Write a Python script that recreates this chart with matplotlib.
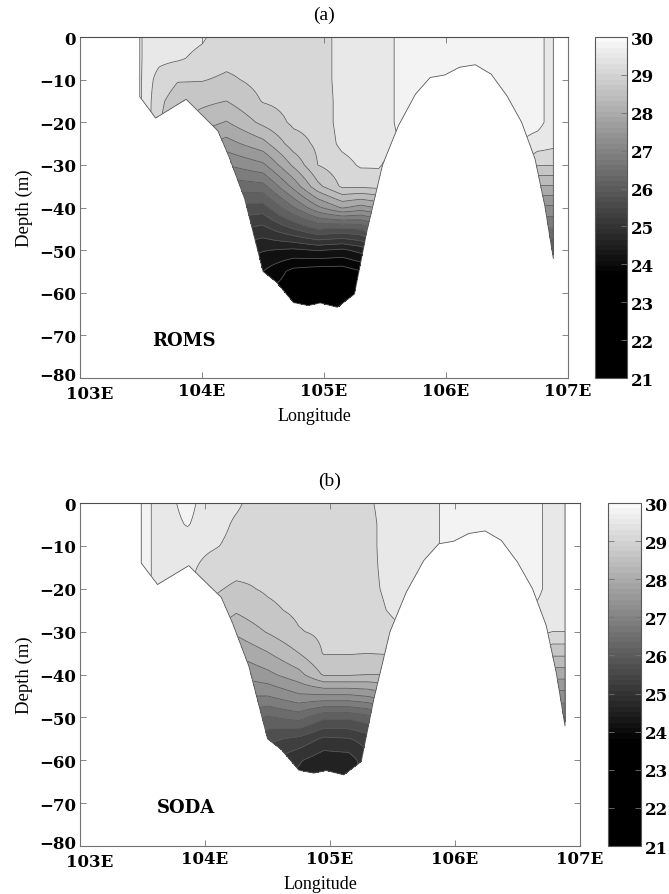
import numpy as np
import matplotlib
matplotlib.use("Agg")
import matplotlib.pyplot as plt
import matplotlib.transforms as mtransforms
from matplotlib.colors import LinearSegmentedColormap, Normalize
from matplotlib.cm import ScalarMappable

plt.rcParams["font.family"] = ["Liberation Serif", "DejaVu Serif"]
plt.rcParams["axes.unicode_minus"] = True

# sea floor along the section (same for both panels)
bottom_lon = [103.49, 103.62, 103.87, 104.13, 104.22, 104.35, 104.5, 104.61,
              104.75, 104.87, 104.97, 105.11, 105.25, 105.35, 105.48, 105.61,
              105.75, 105.87, 105.99, 106.11, 106.24, 106.37, 106.5, 106.62,
              106.73, 106.81, 106.88]
bottom_depth = [-14, -19, -14.6, -22, -28, -38, -55, -57.5, -62.3, -63, -62.4,
                -63.4, -60.3, -45.8, -30, -20.8, -13.4, -9.5, -8.9, -7.1, -6.5,
                -8.7, -13.8, -20, -28.6, -39.6, -52]
west_edge = 103.49
east_edge = 106.88

depth_levels = [0, -5, -10, -15, -20, -25, -30, -35, -40, -45, -50, -55, -60, -65]

# ROMS temperature (degC), one row per station, values at depth_levels
roms_lon = [103.49, 103.55, 103.65, 103.8, 104.0, 104.2, 104.5, 104.75, 104.95,
            105.15, 105.3, 105.45, 105.5, 105.65, 106.0, 106.4, 106.62, 106.75,
            106.88]
roms_temp = [
    [29.7, 29.7, 29.7, 29.7, 29.7, 29.7, 29.7, 29.7, 29.7, 29.7, 29.7, 29.7, 29.7, 29.7],
    [29.45, 29.45, 29.4, 29.4, 29.4, 29.4, 29.4, 29.4, 29.4, 29.4, 29.4, 29.4, 29.4, 29.4],
    [29.4, 29.35, 29.1, 28.95, 28.9, 28.9, 28.9, 28.9, 28.9, 28.9, 28.9, 28.9, 28.9, 28.9],
    [29.4, 29.3, 28.9, 28.7, 28.6, 28.5, 28.4, 28.4, 28.4, 28.4, 28.4, 28.4, 28.4, 28.4],
    [29.3, 29.15, 28.9, 28.6, 28.3, 27.8, 27.3, 26.8, 26.3, 25.8, 25.3, 24.8, 24.4, 24.1],
    [29.05, 29.0, 28.8, 28.5, 28.1, 27.6, 27.0, 26.4, 25.8, 25.2, 24.7, 24.3, 24.0, 23.8],
    [29.05, 29.05, 29.0, 28.9, 28.6, 28.0, 27.3, 26.5, 25.7, 25.0, 24.4, 24.0, 23.6, 23.4],
    [29.1, 29.08, 29.05, 29.0, 28.95, 28.7, 28.2, 27.5, 26.6, 25.5, 24.3, 23.5, 23.4, 23.3],
    [29.05, 29.05, 29.05, 29.0, 29.0, 28.95, 28.88, 28.4, 27.3, 25.9, 24.4, 23.4, 23.3, 23.3],
    [29.4, 29.4, 29.4, 29.4, 29.4, 29.35, 29.1, 28.95, 27.8, 25.8, 24.3, 23.4, 23.3, 23.3],
    [29.45, 29.45, 29.45, 29.45, 29.45, 29.45, 29.3, 28.95, 27.6, 25.9, 24.5, 23.6, 23.4, 23.4],
    [29.45, 29.45, 29.45, 29.45, 29.45, 29.4, 29.3, 29.0, 27.8, 26.3, 25.0, 24.0, 23.8, 23.8],
    [29.45, 29.45, 29.45, 29.45, 29.45, 29.4, 29.2, 28.8, 28.0, 27.0, 26.0, 25.0, 24.5, 24.5],
    [29.8, 29.8, 29.8, 29.8, 29.8, 29.7, 29.5, 29.2, 28.8, 28.4, 28.0, 27.6, 27.2, 27.0],
    [29.8, 29.8, 29.8, 29.8, 29.8, 29.8, 29.8, 29.8, 29.8, 29.8, 29.8, 29.8, 29.8, 29.8],
    [29.8, 29.8, 29.8, 29.8, 29.8, 29.8, 29.8, 29.8, 29.8, 29.8, 29.8, 29.8, 29.8, 29.8],
    [29.8, 29.8, 29.8, 29.8, 29.8, 29.6, 29.3, 28.9, 28.4, 27.8, 27.3, 26.9, 26.6, 26.5],
    [29.75, 29.75, 29.75, 29.75, 29.75, 29.45, 28.9, 28.1, 27.3, 26.6, 25.9, 25.5, 25.3, 25.2],
    [29.45, 29.45, 29.45, 29.45, 29.45, 29.35, 28.9, 28.1, 27.3, 26.6, 25.9, 25.5, 25.3, 25.2],
]

# SODA temperature (degC), same layout
soda_lon = [103.49, 103.65, 103.86, 104.05, 104.25, 104.5, 104.75, 104.95, 105.15,
            105.3, 105.45, 105.55, 105.75, 106.0, 106.4, 106.62, 106.78, 106.88]
soda_temp = [
    [29.8, 29.8, 29.8, 29.8, 29.8, 29.8, 29.8, 29.8, 29.8, 29.8, 29.8, 29.8, 29.8, 29.8],
    [29.45, 29.45, 29.45, 29.45, 29.45, 29.45, 29.45, 29.45, 29.45, 29.45, 29.45, 29.45, 29.45, 29.45],
    [29.75, 29.65, 29.4, 29.35, 29.3, 29.2, 29.1, 29.0, 29.0, 29.0, 29.0, 29.0, 29.0, 29.0],
    [29.4, 29.4, 29.3, 29.1, 28.95, 28.8, 28.6, 28.4, 28.2, 28.0, 27.8, 27.6, 27.4, 27.2],
    [29.3, 29.2, 29.15, 29.0, 28.8, 28.55, 28.2, 27.8, 27.4, 27.0, 26.6, 26.3, 26.0, 25.8],
    [29.05, 29.05, 29.0, 28.95, 28.92, 28.8, 28.53, 28.1, 27.65, 27.0, 26.2, 25.6, 25.2, 25.0],
    [29.05, 29.05, 29.05, 29.0, 29.0, 28.95, 28.85, 28.5, 28.0, 27.3, 26.4, 25.4, 24.8, 24.6],
    [29.05, 29.05, 29.05, 29.05, 29.0, 29.0, 28.95, 28.9, 28.55, 27.3, 25.95, 25.05, 24.5, 24.3],
    [29.1, 29.1, 29.1, 29.1, 29.1, 29.05, 29.0, 28.9, 28.55, 27.3, 25.95, 25.1, 24.55, 24.35],
    [29.2, 29.15, 29.15, 29.15, 29.15, 29.1, 29.0, 28.88, 28.5, 27.4, 26.1, 25.3, 25.0, 25.0],
    [29.35, 29.35, 29.35, 29.33, 29.3, 29.25, 29.1, 28.9, 28.5, 27.6, 26.5, 25.8, 25.5, 25.5],
    [29.4, 29.4, 29.4, 29.4, 29.4, 29.35, 29.2, 28.9, 28.5, 28.0, 27.5, 27.0, 26.8, 26.8],
    [29.45, 29.45, 29.45, 29.45, 29.45, 29.45, 29.45, 29.45, 29.45, 29.45, 29.45, 29.45, 29.45, 29.45],
    [29.8, 29.8, 29.8, 29.8, 29.8, 29.8, 29.8, 29.8, 29.8, 29.8, 29.8, 29.8, 29.8, 29.8],
    [29.8, 29.8, 29.8, 29.8, 29.8, 29.8, 29.8, 29.8, 29.8, 29.8, 29.8, 29.8, 29.8, 29.8],
    [29.8, 29.8, 29.8, 29.8, 29.8, 29.6, 29.4, 28.9, 28.3, 27.7, 27.1, 26.8, 26.6, 26.5],
    [29.45, 29.45, 29.45, 29.45, 29.45, 29.4, 29.25, 28.6, 27.9, 27.2, 26.6, 26.3, 26.1, 26.0],
    [29.4, 29.4, 29.4, 29.4, 29.4, 29.4, 29.25, 28.6, 27.9, 27.2, 26.6, 26.3, 26.1, 26.0],
]

temp_levels = np.linspace(21, 30, 25)
cbar_ticks = list(range(21, 31))
lon_ticks = [103, 104, 105, 106, 107]
lon_labels = ["103E", "104E", "105E", "106E", "107E"]
depth_ticks = [0, -10, -20, -30, -40, -50, -60, -70, -80]

# gray scale: black below ~23.7 degC, then ramps to near white at 30
t_black = (23.7 - 21) / 9
cmap = LinearSegmentedColormap.from_list(
    "sst_gray", [(0, "0.0"), (t_black, "0.0"), (1, "0.975")], N=64)
norm = Normalize(21, 30)

tick_font = {"family": ["DejaVu Serif"], "weight": "bold", "size": 12}


def section_field(station_lon, station_temp, lon_grid, z_grid):
    """Interpolate station profiles onto a lon/depth grid, masked below the floor."""
    zp = -np.asarray(depth_levels, dtype=float)
    prof = np.array([np.interp(-z_grid, zp, t) for t in station_temp])
    field = np.array([np.interp(lon_grid, station_lon, prof[:, k])
                      for k in range(len(z_grid))])
    floor = np.interp(lon_grid, bottom_lon, bottom_depth)
    return np.ma.masked_where(z_grid[:, None] < floor[None, :], field)


def draw_section(fig, ax_rect, cax_rect, station_lon, station_temp, tag, model):
    ax = fig.add_axes(ax_rect)
    lon_grid = np.linspace(west_edge, east_edge, 600)
    z_grid = np.linspace(0, -65, 500)
    field = section_field(station_lon, station_temp, lon_grid, z_grid)

    ax.contourf(lon_grid, z_grid, field, levels=temp_levels, cmap=cmap, norm=norm)
    ax.contour(lon_grid, z_grid, field, levels=temp_levels, colors="0.35",
               linewidths=0.55)
    ax.plot([west_edge] + bottom_lon + [east_edge], [0] + bottom_depth + [0],
            color="0.35", lw=0.6)

    ax.set_xlim(103, 107)
    ax.set_ylim(-80, 0)
    ax.set_xticks(lon_ticks)
    ax.set_xticklabels(lon_labels, fontdict=tick_font)
    ax.set_yticks(depth_ticks)
    ax.set_yticklabels([f"\u2212{-d}" if d else "0" for d in depth_ticks],
                       fontdict=tick_font)
    ax.tick_params(direction="in", top=True, right=True, length=4, width=0.6,
                   color="0.45")
    ax.tick_params(axis="x", pad=3)
    ax.tick_params(axis="y", pad=3)
    # nudge the corner labels apart so they don't collide
    ax.get_xticklabels()[0].set_transform(
        ax.get_xticklabels()[0].get_transform()
        + mtransforms.ScaledTranslation(7 / 72, -2 / 72, fig.dpi_scale_trans))
    ax.get_yticklabels()[-1].set_transform(
        ax.get_yticklabels()[-1].get_transform()
        + mtransforms.ScaledTranslation(0, 3 / 72, fig.dpi_scale_trans))
    for s in ax.spines.values():
        s.set_color("0.45")
        s.set_linewidth(0.8)
    ax.spines["top"].set_color("0.3")

    ax.set_xlabel("Longitude", fontsize=13, labelpad=2)
    ax.xaxis.set_label_coords(0.48, -0.085)
    ax.set_ylabel("Depth (m)", fontsize=13.5, labelpad=4)
    ax.set_title(tag, fontsize=14, pad=13)
    ax.text(103.85, -71, model, fontsize=13, fontweight="bold",
            family=["DejaVu Serif"], ha="center", va="center")

    cax = fig.add_axes(cax_rect)
    cb = fig.colorbar(ScalarMappable(norm=norm, cmap=cmap), cax=cax,
                      ticks=cbar_ticks)
    cb.ax.set_yticklabels([str(t) for t in cbar_ticks], fontdict=tick_font)
    cb.ax.tick_params(direction="in", left=True, right=True, length=4,
                      width=0.6, color="0.45", pad=3)
    cb.outline.set_color("0.35")
    cb.outline.set_linewidth(0.8)
    return ax


fig = plt.figure(figsize=(6.69, 8.95), dpi=100)
draw_section(fig, [0.1196, 0.5765, 0.7294, 0.381], [0.8894, 0.5765, 0.0478, 0.381],
             roms_lon, roms_temp, "(a)", "ROMS")
draw_section(fig, [0.1196, 0.0536, 0.7474, 0.3832], [0.9088, 0.0536, 0.0493, 0.3832],
             soda_lon, soda_temp, "(b)", "SODA")

fig.savefig("out.png", dpi=100)
